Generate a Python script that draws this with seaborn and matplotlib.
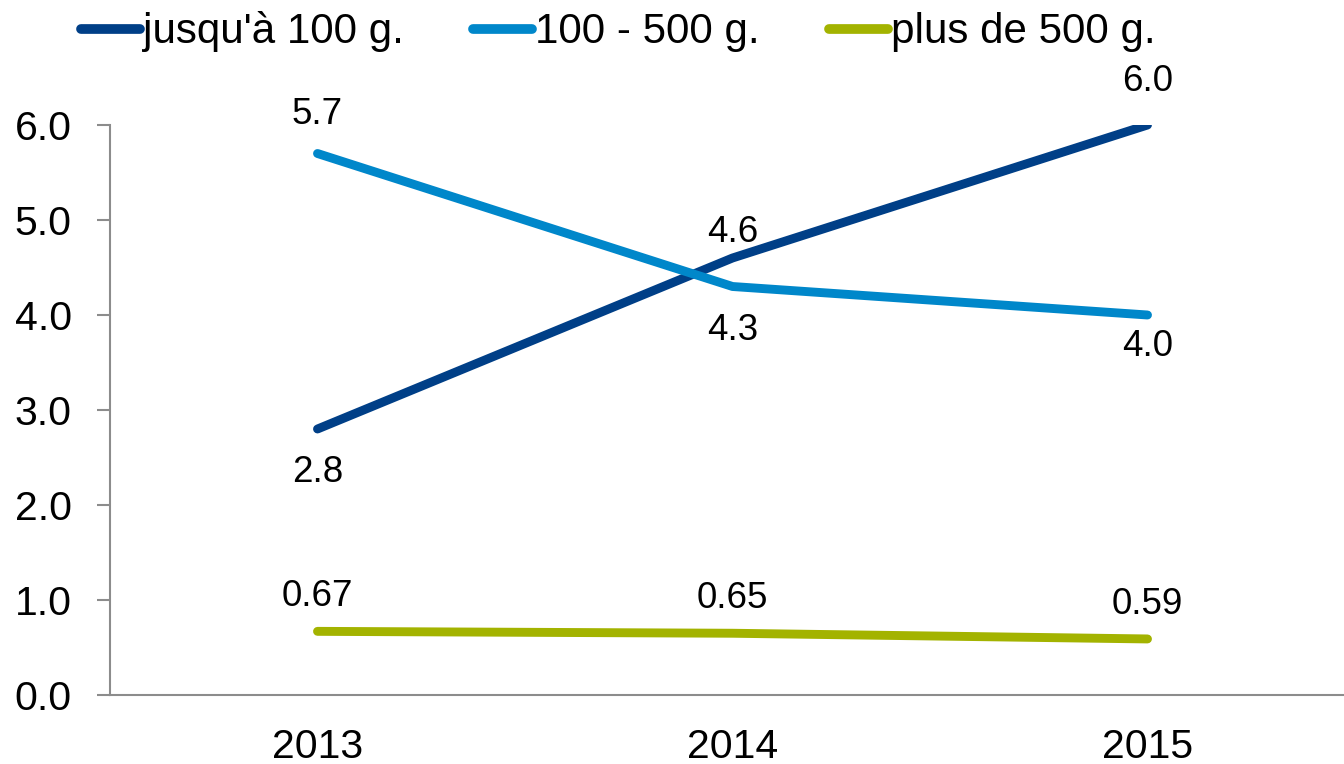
import matplotlib
matplotlib.use("Agg")
import matplotlib.pyplot as plt
import seaborn as sns
import pandas as pd
from matplotlib.lines import Line2D

years = ["2013", "2014", "2015"]
series_names = ["jusqu'à 100 g.", "100 - 500 g.", "plus de 500 g."]
s_small = [2.8, 4.6, 6.0]
s_medium = [5.7, 4.3, 4.0]
s_large = [0.67, 0.65, 0.59]
labels_small = ["2.8", "4.6", "6.0"]
labels_medium = ["5.7", "4.3", "4.0"]
labels_large = ["0.67", "0.65", "0.59"]
colors = ["#003F87", "#0087CA", "#A3B300"]

rows = []
for name, vals in zip(series_names, [s_small, s_medium, s_large]):
    for i, v in enumerate(vals):
        rows.append({"pos": i, "year": years[i], "value": v, "series": name})
df = pd.DataFrame(rows)

sns.set_theme(style="white")
plt.rcParams['font.family'] = ['Liberation Sans', 'DejaVu Sans']
plt.rcParams['text.color'] = 'black'
plt.rcParams['xtick.color'] = 'black'
plt.rcParams['ytick.color'] = 'black'

fig = plt.figure(figsize=(13.44, 7.64), dpi=100)
ax = fig.add_axes([110/1344, 69/764, 1245/1344, 570/764])

sns.lineplot(data=df, x="pos", y="value", hue="series", palette=colors,
             hue_order=series_names, linewidth=6.4, ax=ax, legend=False,
             sort=False)
for ln in ax.get_lines():
    ln.set_solid_capstyle("round")
    ln.set_solid_joinstyle("round")

ax.set_xlim(-0.5, 2.5)
ax.set_ylim(0, 6.0)
ax.set_yticks([0, 1, 2, 3, 4, 5, 6])
ax.set_yticklabels([f"{v:.1f}" for v in [0, 1, 2, 3, 4, 5, 6]])
ax.set_xticks(range(len(years)))
ax.set_xticklabels(years)
ax.set_xlabel("")
ax.set_ylabel("")
for s in ["top", "right"]:
    ax.spines[s].set_visible(False)
for s in ["left", "bottom"]:
    ax.spines[s].set_color("#8C8C8C")
    ax.spines[s].set_linewidth(1.5)
ax.tick_params(axis="y", which="major", length=9.5, width=1.5, color="#8C8C8C",
               labelcolor="black", direction="out", labelsize=29.5, pad=18, left=True)
ax.tick_params(axis="x", length=0, labelsize=29.5, labelcolor="black", pad=24)

# data labels: offsets in points (+ above, - below)
offs_small = [-31, 18, 31]
offs_medium = [28, -32, -23]
offs_large = [25, 25, 25]
for vals, labs, offs in [(s_small, labels_small, offs_small),
                         (s_medium, labels_medium, offs_medium),
                         (s_large, labels_large, offs_large)]:
    for i, (v, lab, o) in enumerate(zip(vals, labs, offs)):
        ax.annotate(lab, (i, v), xytext=(0, o), textcoords="offset points",
                    ha="center", va="center", fontsize=26.5, color="black",
                    annotation_clip=False)

handles = [Line2D([0], [0], color=c, lw=7.0, solid_capstyle="round") for c in colors]
fig.legend(handles, series_names, loc="center", bbox_to_anchor=(618/1344, 1 - 32/764),
           ncol=3, frameon=False, fontsize=30.3, handlelength=1.4, handletextpad=0.07,
           columnspacing=1.65)

fig.savefig("out.png", dpi=100)
